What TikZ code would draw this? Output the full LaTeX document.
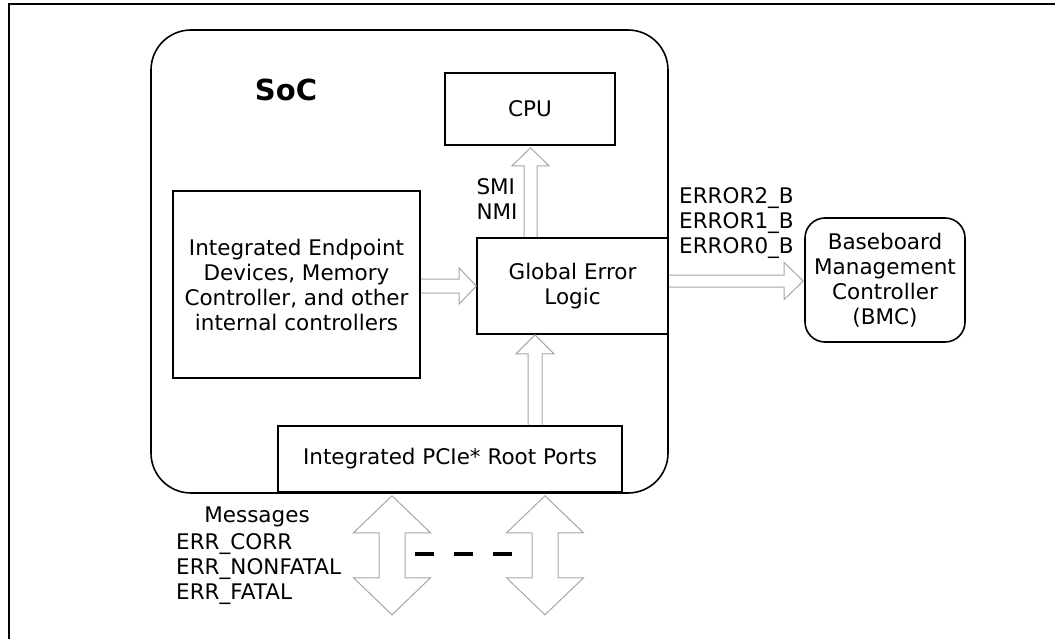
\documentclass[tikz,border=0pt]{standalone}
\usepackage{fontspec}
\setmainfont{DejaVu Sans}
\usetikzlibrary{calc}
\newcommand{\txt}{\fontsize{21.5}{25}\selectfont}
\tikzset{
  box/.style={draw, line width=1.6pt, inner sep=0pt, align=center, font=\txt},
  lbl/.style={inner sep=0pt, align=left, font=\txt},
  fatarrow/.style={draw=black!35, line width=1pt, line join=miter},
}
\begin{document}
\begin{tikzpicture}[x=1pt,y=1pt,yscale=-1]
\useasboundingbox (0,0) rectangle (1055,639);

%Frame
\draw[line width=1.2pt] (9,639) -- (9,4) -- (1055,4);

%Shape: SoC
\node[box, rounded corners=40pt, minimum width=517pt, minimum height=463pt] (soc) at (409.5,261.5) {};
\node[font=\fontsize{29}{29}\selectfont\bfseries, inner sep=0pt] (soclbl) at (286,90) {SoC};

%Blocks
\node[box, minimum width=170pt, minimum height=72pt] (cpu) at (530,109) {CPU};
\node[box, minimum width=191pt, minimum height=96pt] (gel) at (572.5,286) {Global Error\\Logic};
\node[box, minimum width=247pt, minimum height=187pt] (ied) at (296.5,284.5) {Integrated Endpoint\\Devices, Memory\\Controller, and other\\internal controllers};
\node[box, minimum width=344pt, minimum height=66pt] (pcie) at (450,459) {Integrated PCIe* Root Ports};
\node[box, rounded corners=20pt, minimum width=160pt, minimum height=124pt] (bmc) at (885,280) {Baseboard\\Management\\Controller\\(BMC)};

% Text Nodes
\node[lbl] (sminmi) at (497,199.5) {SMI\\NMI};
\node[lbl, anchor=west] (errb) at (679,223) {ERROR2\_B\\ERROR1\_B\\ERROR0\_B};
\node[lbl, anchor=west] (msgs) at (176,569) {ERR\_CORR\\ERR\_NONFATAL\\ERR\_FATAL};
\node[lbl] (msghd) at (257,517) {Messages};

%Block Arrow: GEL up to CPU
\coordinate (ctip) at ($(cpu.south)+(0.5,2)$);
\draw[fatarrow] ($(ctip|-gel.north)+(-6.5,0)$) -- ($(ctip)+(-6.5,18)$) -- ($(ctip)+(-18.5,18)$) -- (ctip) -- ($(ctip)+(18.5,18)$) -- ($(ctip)+(6.5,18)$) -- ($(ctip|-gel.north)+(6.5,0)$);
%Block Arrow: endpoint devices to GEL
\coordinate (gtip) at (gel.west);
\draw[fatarrow] ($(ied.east|-gtip)+(0,-7)$) -- ($(gtip)+(-17,-7)$) -- ($(gtip)+(-17,-18)$) -- (gtip) -- ($(gtip)+(-17,18)$) -- ($(gtip)+(-17,7)$) -- ($(ied.east|-gtip)+(0,7)$);
%Block Arrow: PCIe up to GEL
\coordinate (ptip) at ($(gel.south)+(-37.5,0)$);
\draw[fatarrow] ($(ptip|-pcie.north)+(-7,0)$) -- ($(ptip)+(-7,19)$) -- ($(ptip)+(-19,19)$) -- (ptip) -- ($(ptip)+(19,19)$) -- ($(ptip)+(7,19)$) -- ($(ptip|-pcie.north)+(7,0)$);
%Block Arrow: GEL to BMC
\coordinate (btip) at ($(bmc.west)+(-1,1)$);
\draw[fatarrow] ($(gel.east|-btip)+(0,-6)$) -- ($(btip)+(-19,-6)$) -- ($(btip)+(-19,-18.5)$) -- (btip) -- ($(btip)+(-19,18.5)$) -- ($(btip)+(-19,6)$) -- ($(gel.east|-btip)+(0,6)$);

%Double Arrows: messages
\coordinate (ta) at ($(pcie.south)+(-58,3)$);
\coordinate (tb) at ($(pcie.south)+(95,3)$);
\foreach \t in {ta,tb}
  \draw[fatarrow] (\t) -- ++(38.5,37) -- ++(-25.5,0) -- ++(0,45) -- ++(25.5,0) -- ++(-38.5,37) -- ++(-38.5,-37) -- ++(25.5,0) -- ++(0,-45) -- ++(-25.5,0) -- cycle;
\draw[line width=4pt, dash pattern=on 19pt off 20pt] ($(ta)+(23,58)$) -- ($(tb)+(-32,58)$);

\end{tikzpicture}
\end{document}
